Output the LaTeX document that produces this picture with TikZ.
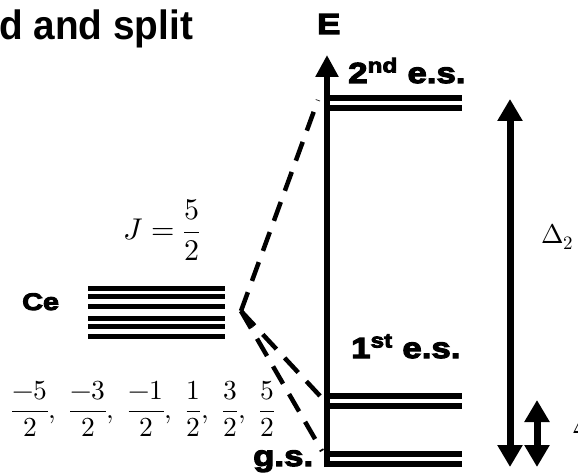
\documentclass[tikz,border=0pt]{standalone}
\usepackage{fontspec}
\usepackage{unicode-math}
\setmathfont{Latin Modern Math}
\newfontfamily\blk{Liberation Sans}[BoldFeatures={FakeBold=4,FakeStretch=1.2}]
\newfontfamily\ttl{Liberation Sans}[BoldFeatures={FakeStretch=0.945}]
\usetikzlibrary{arrows.meta}
\tikzset{
  lbl/.style={inner sep=0pt, anchor=base west, font=\blk\bfseries\fontsize{29}{29}\selectfont},
  lev/.style={line width=6pt},
  celev/.style={line width=5pt},
  dsh/.style={line width=4.5pt, dash pattern=on 20pt off 12pt},
  axisline/.style={line width=6pt, -{Triangle[length=22pt,width=22pt]}},
  darr/.style={line width=7pt, {Triangle[length=22pt,width=24pt]}-{Triangle[length=22pt,width=24pt]}},
  mth/.style={inner sep=0pt, anchor=west}
}
\begin{document}
\begin{tikzpicture}[x=1pt,y=-1pt]
\useasboundingbox (0,0) rectangle (578,476);
\clip (0,0) rectangle (578,476);
% title
\node[inner sep=0pt, anchor=base west, font=\ttl\bfseries\fontsize{41}{41}\selectfont] (title) at (-1,40) {d and split};
% labels
\node[lbl] (E) at (317,34) {E};
\node[lbl] (es2) at (348,83) {2\textsuperscript{nd} e.s.};
\node[lbl] (es1) at (351,358) {1\textsuperscript{st} e.s.};
\node[lbl] (gs) at (253,466) {g.s.};
\node[lbl, font=\blk\bfseries\fontsize{24}{24}\selectfont] (ce) at (22,310) {Ce};
% math
\node[mth, font=\fontsize{30}{30}\selectfont] (J) at (123,230) {$\displaystyle J=\frac{5}{2}$};
\node[mth, font=\fontsize{27.5}{27.5}\selectfont] (mj) at (11,409)
  {$\displaystyle \frac{-5}{2},\ \frac{-3}{2},\ \frac{-1}{2},\ \frac{1}{2},\ \frac{3}{2},\ \frac{5}{2}$};
\node[mth, anchor=base west, font=\fontsize{27}{27}\selectfont] (D2) at (541,243) {$\Delta_2$};
\node[mth, anchor=base west, font=\fontsize{27}{27}\selectfont] (D1) at (572,433) {$\Delta_1$};
% axis
\coordinate (axb) at (327,467);
\coordinate (axt) at (327,55);
\draw[axisline] (axb) -- (axt);
% crystal field levels
\draw[lev] (324,98) -- (462,98);
\draw[lev] (324,108) -- (462,108);
\draw[lev] (324,396) -- (462,396);
\draw[lev] (324,406) -- (462,406);
\draw[lev] (324,454) -- (462,454);
\draw[lev] (324,464) -- (462,464);
% Ce J=5/2 levels
\foreach \yy in {288,296,306,318,326,336} \draw[celev] (88,\yy) -- (225,\yy);
% dashed connectors
\coordinate (V) at (241,311);
\coordinate (U) at (318,100);
\coordinate (A) at (321,397);
\coordinate (B) at (322,451);
\draw[dsh] (V) -- (U);
\draw[dsh] (V) -- (A);
\draw[dsh] (V) -- (B);
% splitting arrows
\coordinate (d2t) at (510,99);
\coordinate (d2b) at (510,467);
\draw[darr] (d2b) -- (d2t);
\coordinate (d1t) at (537,400);
\coordinate (d1b) at (537,467);
\draw[darr] (d1b) -- (d1t);
\end{tikzpicture}
\end{document}
